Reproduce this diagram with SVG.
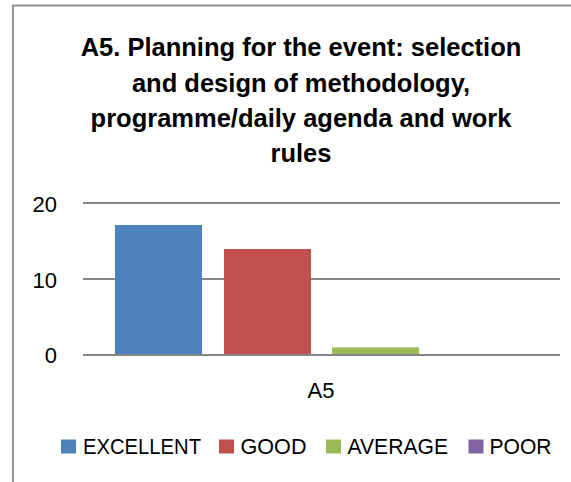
<svg xmlns="http://www.w3.org/2000/svg" width="571" height="482" viewBox="0 0 571 482">
<style>
.title{font-family:"Liberation Sans",Arial,sans-serif;font-weight:bold;font-size:25.5px;fill:#000;text-anchor:middle}
.ax{font-family:"Liberation Sans",Arial,sans-serif;font-size:22px;fill:#000;text-anchor:end}
.cat{font-family:"Liberation Sans",Arial,sans-serif;font-size:22px;fill:#000;text-anchor:middle}
.leg{font-family:"Liberation Sans",Arial,sans-serif;font-size:22px;fill:#000}
.grid{stroke:#868686;stroke-width:2;fill:none}
</style>
<rect width="571" height="482" fill="#fff"/>
<rect id="frame" x="13" y="5.5" width="620" height="520" fill="none" stroke="#888" stroke-width="1.8"/>
<g id="title">
<text class="title" x="301" y="56">A5. Planning for the event: selection</text>
<text class="title" x="301" y="92">and design of methodology,</text>
<text class="title" x="301" y="127">programme/daily agenda and work</text>
<text class="title" x="301" y="162">rules</text>
</g>
<g id="axis">
<line class="grid" x1="83" y1="203" x2="560" y2="203"/>
<line class="grid" x1="83" y1="279" x2="560" y2="279"/>
<text class="ax" x="57" y="212">20</text>
<text class="ax" x="57" y="287.5">10</text>
<text class="ax" x="57" y="363">0</text>
</g>
<g id="bars">
<rect id="bar-excellent" x="115" y="225" width="87" height="130" fill="#4F81BD"/>
<rect id="bar-good" x="224" y="249" width="87" height="106" fill="#C0504D"/>
<rect id="bar-average" x="332" y="347.4" width="87" height="7.6" fill="#9BBB59"/>
</g>
<line class="grid" x1="83" y1="355" x2="560" y2="355"/>
<text class="cat" x="321" y="397.5">A5</text>
<g id="legend">
<rect x="61" y="439.5" width="15" height="14" fill="#4F81BD"/>
<text class="leg" x="83" y="454" textLength="118" lengthAdjust="spacingAndGlyphs">EXCELLENT</text>
<rect x="219" y="439.5" width="15" height="14" fill="#C0504D"/>
<text class="leg" x="240.5" y="454" textLength="66" lengthAdjust="spacingAndGlyphs">GOOD</text>
<rect x="326" y="439.5" width="15" height="14" fill="#9BBB59"/>
<text class="leg" x="347.5" y="454" textLength="100.5" lengthAdjust="spacingAndGlyphs">AVERAGE</text>
<rect x="468.5" y="439.5" width="15" height="14" fill="#8064A2"/>
<text class="leg" x="489.5" y="454" textLength="62" lengthAdjust="spacingAndGlyphs">POOR</text>
</g>
</svg>
